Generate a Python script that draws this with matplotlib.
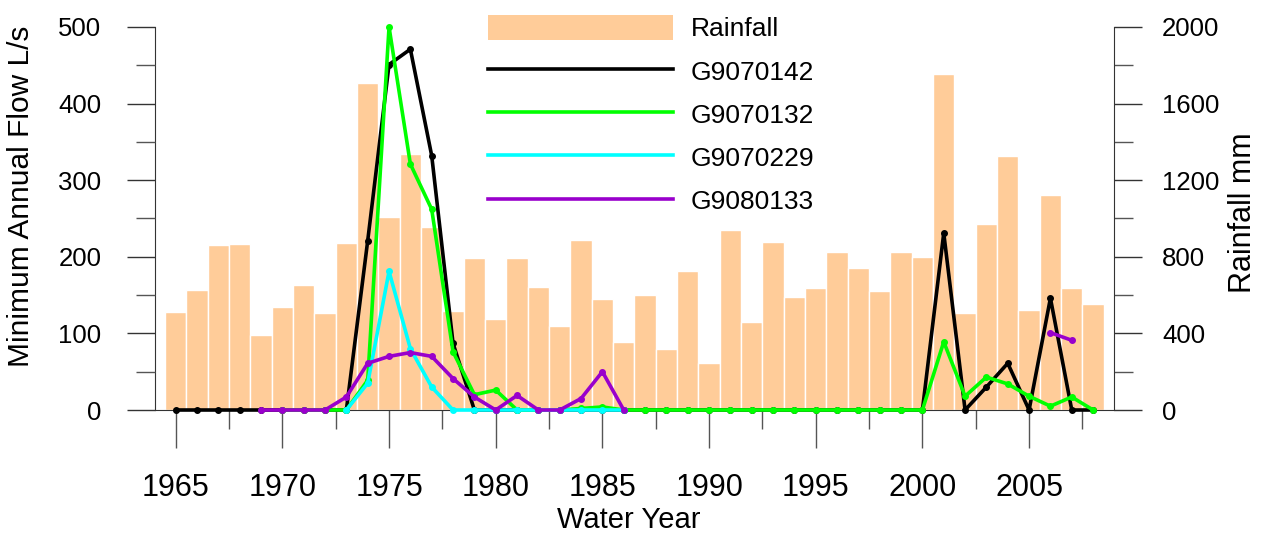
import matplotlib.pyplot as plt
import numpy as np
from matplotlib.patches import Patch
from matplotlib.lines import Line2D
from matplotlib.ticker import MultipleLocator

plt.rcParams['font.family'] = ['Liberation Sans', 'DejaVu Sans']

nan = np.nan
years = np.arange(1965, 2009)

rainfall = [513, 627, 862, 865, 392, 540, 651, 508, 870, 1709,
            1008, 1335, 957, 517, 795, 475, 795, 642, 439, 886,
            578, 357, 600, 320, 728, 245, 940, 461, 876, 592,
            639, 825, 743, 621, 825, 799, 1753, 508, 971, 1328,
            521, 1123, 635, 552]

g9070142 = [0, 0, 0, 0, 0, 0, 0, 0, 0, 221,
            451, 471, 332, 87, 0, 0, 0, 0, 0, 0,
            0, 0, 0, 0, 0, 0, 0, 0, 0, 0,
            0, 0, 0, 0, 0, 0, 231, 0, 30, 61,
            0, 146, 0, 0]

g9070132 = [nan, nan, nan, nan, nan, 0, 0, 0, 0, 39,
            500, 321, 262, 76, 20, 26, 0, 0, 0, 2,
            4, 0, 0, 0, 0, 0, 0, 0, 0, 0,
            0, 0, 0, 0, 0, 0, 89, 18, 43, 34,
            18, 5, 17, 0]

g9070229 = [nan, nan, nan, nan, nan, nan, nan, nan, 0, 35,
            181, 80, 30, 0, 0, 0, 0, 0, 0, 0,
            0, 0, nan, nan, nan, nan, nan, nan, nan, nan,
            nan, nan, nan, nan, nan, nan, nan, nan, nan, nan,
            nan, nan, nan, nan]

g9080133 = [nan, nan, nan, nan, 0, 0, 0, 0, 17, 61,
            70, 75, 70, 41, 17, 0, 19, 0, 0, 15,
            50, 0, nan, nan, nan, nan, nan, nan, nan, nan,
            nan, nan, nan, nan, nan, nan, nan, nan, nan, nan,
            nan, 101, 91, nan]

series = [("G9070142", g9070142, "black"),
          ("G9070132", g9070132, "#00ff00"),
          ("G9070229", g9070229, "#00ffff"),
          ("G9080133", g9080133, "#9900cc")]

W, H = 1264, 535
fig = plt.figure(figsize=(W / 100, H / 100), dpi=100)
ax = fig.add_axes([155 / W, 1 - 410 / H, 959 / W, 383 / H])
ax2 = ax.twinx()

bar_col = "#ffcc99"
ax.bar(years, rainfall, width=1.0, color=bar_col, edgecolor="white", linewidth=1.0)
ax.set_xlim(1964.03, 2008.98)
ax.set_ylim(0, 2000)

# rainfall scale on the right, flow scale on the left
ax.yaxis.tick_right()
ax.yaxis.set_label_position("right")
ax2.yaxis.tick_left()
ax2.yaxis.set_label_position("left")

ax.yaxis.set_major_locator(MultipleLocator(400))
ax.yaxis.set_minor_locator(MultipleLocator(200))
ax.set_xticks(range(1965, 2006, 5))
ax.set_xticks(np.arange(1967.5, 2008, 5), minor=True)

ax.tick_params(axis="y", which="major", length=20.5, width=1, color="#333333",
               labelsize=18.5, pad=14, left=False, labelleft=False,
               right=True, labelright=True)
ax.tick_params(axis="y", which="minor", length=14, width=1, color="#555555",
               left=False, right=True)
ax.tick_params(axis="x", which="major", length=27, width=1, color="#555555",
               labelsize=22, pad=18)
ax.tick_params(axis="x", which="minor", length=13.7, width=1, color="#555555")

ax.spines["top"].set_visible(False)
for s in ["left", "right", "bottom"]:
    ax.spines[s].set_color("#333333")

ax2.set_ylim(0, 500)
ax2.yaxis.set_major_locator(MultipleLocator(100))
ax2.yaxis.set_minor_locator(MultipleLocator(50))
ax2.tick_params(axis="y", which="major", length=20, width=1, color="#333333",
                labelsize=18.5, pad=18.7, right=False, labelright=False,
                left=True, labelleft=True)
ax2.tick_params(axis="y", which="minor", length=13.7, width=1, color="#555555",
                right=False, left=True)
for s in ax2.spines.values():
    s.set_visible(False)

for name, vals, col in series:
    ax2.plot(years, vals, color=col, lw=2.6, marker="o", ms=4, clip_on=False)

fig.text(21 / W, 1 - 196 / H, "Minimum Annual Flow L/s", rotation=90,
         ha="center", va="center", fontsize=21.5)
fig.text(1243 / W, 1 - 213 / H, "Rainfall mm", rotation=90,
         ha="center", va="center", fontsize=22)
fig.text(629 / W, 1 - 520 / H, "Water Year", ha="center", va="center", fontsize=21)

handles = [Patch(facecolor=bar_col, edgecolor="none")]
labels = ["Rainfall"]
for name, vals, col in series:
    handles.append(Line2D([], [], color=col, lw=2.6))
    labels.append(name)
fig.legend(handles, labels, loc="upper left", bbox_to_anchor=(488 / W, 1 - 15 / H),
           frameon=False, fontsize=19, handlelength=7, handleheight=1.06,
           labelspacing=0.64, handletextpad=0.68, borderpad=0, borderaxespad=0)

fig.savefig("out.png", dpi=100)
